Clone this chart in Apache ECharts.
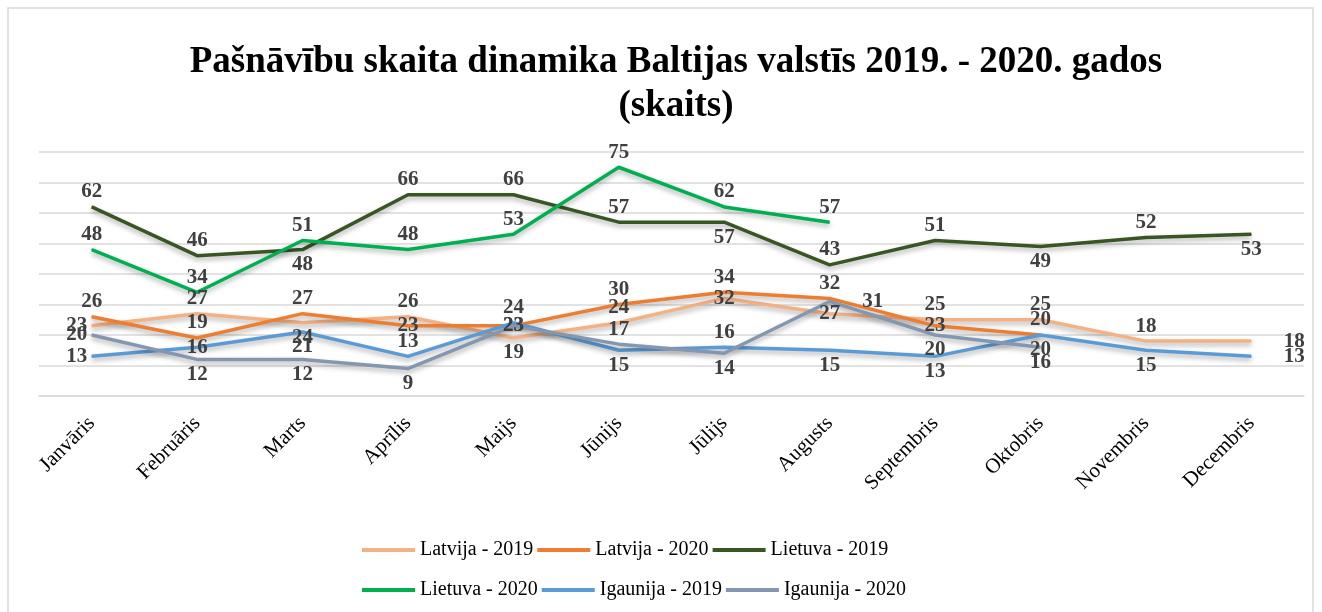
<!DOCTYPE html>
<html>
<head>
    <meta charset="UTF-8">
    <title>Pašnāvību skaita dinamika</title>
    <script src="https://cdn.jsdelivr.net/npm/echarts@6/dist/echarts.min.js"></script>
</head>
<body style="margin: 0;overflow: hidden;background: #fff;">
<div id="chart" style="width: 1322px;height: 612px;"></div>
<script type="text/javascript">
    var months = ['Janvāris', 'Februāris', 'Marts', 'Aprīlis', 'Maijs', 'Jūnijs',
        'Jūlijs', 'Augusts', 'Septembris', 'Oktobris', 'Novembris', 'Decembris'];

    var latvija2019 = [23, 27, 24, 26, 19, 24, 32, 27, 25, 25, 18, 18];
    var latvija2020 = [26, 19, 27, 23, 23, 30, 34, 32, 23, 20];
    var lietuva2019 = [62, 46, 48, 66, 66, 57, 57, 43, 51, 49, 52, 53];
    var lietuva2020 = [48, 34, 51, 48, 53, 75, 62, 57];
    var igaunija2019 = [13, 16, 21, 13, 24, 15, 16, 15, 13, 20, 15, 13];
    var igaunija2020 = [20, 12, 12, 9, 23, 17, 14, 31, 20, 16];

    // where each value label sits: t top, b bottom, l left, r right, c on the point
    var posCode = {t: 'top', b: 'bottom', l: 'left', r: 'right', c: 'inside'};

    var font = 'Liberation Serif, Times New Roman, serif';

    function makeSeries(name, values, color, places) {
        return {
            name: name,
            type: 'line',
            symbol: 'circle',
            symbolSize: 1,
            showSymbol: true,
            color: color,
            lineStyle: {
                width: 3.5,
                color: color,
                shadowColor: 'rgba(0,0,0,0.3)',
                shadowBlur: 5,
                shadowOffsetY: 3
            },
            data: values.map(function (v, i) {
                var p = places.charAt(i);
                return {
                    value: v,
                    label: {position: posCode[p] || 'top', distance: p === 'r' ? 32 : 4}
                };
            }),
            label: {
                show: true,
                fontFamily: font,
                fontWeight: 'bold',
                fontSize: 21,
                color: '#404040'
            }
        };
    }

    var chart = echarts.init(document.getElementById('chart'));
    var legendText = {fontFamily: font, fontSize: 20, color: '#000', width: 150};

    chart.setOption({
        animation: false,
        title: {
            text: 'Pašnāvību skaita dinamika Baltijas valstīs 2019. - 2020. gados\n(skaits)',
            left: 671,
            top: 35,
            textAlign: 'center',
            textStyle: {
                fontFamily: font,
                fontWeight: 'bold',
                fontSize: 37,
                lineHeight: 44,
                color: '#000'
            }
        },
        graphic: [{
            type: 'rect',
            shape: {x: 8, y: 8, width: 1305, height: 640},
            style: {fill: 'none', stroke: '#d9d9d9', lineWidth: 1.5},
            silent: true
        }],
        legend: [{
            data: ['Latvija - 2019', 'Latvija - 2020', 'Lietuva - 2019'],
            left: 357,
            top: 535,
            icon: 'rect',
            itemWidth: 53,
            itemHeight: 4,
            itemGap: 4,
            textStyle: legendText
        }, {
            data: ['Lietuva - 2020', 'Igaunija - 2019', 'Igaunija - 2020'],
            left: 357,
            top: 575,
            icon: 'rect',
            itemWidth: 53,
            itemHeight: 4,
            itemGap: 4,
            textStyle: legendText
        }],
        grid: {left: 39, right: 18, top: 152, bottom: 216},
        xAxis: {
            type: 'category',
            data: months,
            boundaryGap: true,
            axisTick: {show: false},
            axisLine: {lineStyle: {color: '#d9d9d9', width: 1.5}},
            axisLabel: {
                rotate: 45,
                margin: 24,
                fontFamily: font,
                fontSize: 21,
                color: '#000'
            }
        },
        yAxis: {
            type: 'value',
            min: 0,
            max: 80,
            interval: 10,
            axisLabel: {show: false},
            axisLine: {show: false},
            axisTick: {show: false},
            splitLine: {lineStyle: {color: '#d9d9d9', width: 1.5}}
        },
        series: [
            makeSeries('Latvija - 2019', latvija2019, '#f4b183', 'ltbtbtcctttr'),
            makeSeries('Latvija - 2020', latvija2020, '#ed7d31', 'tttcctttct'),
            makeSeries('Lietuva - 2019', lietuva2019, '#375623', 'ttbtttbttbtb'),
            makeSeries('Lietuva - 2020', lietuva2020, '#00b050', 'tttttttt'),
            makeSeries('Igaunija - 2019', igaunija2019, '#5b9bd5', 'lcbttbtbbbbr'),
            makeSeries('Igaunija - 2020', igaunija2020, '#8497b0', 'lbbbctbrbb')
        ]
    });
</script>
</body>
</html>
